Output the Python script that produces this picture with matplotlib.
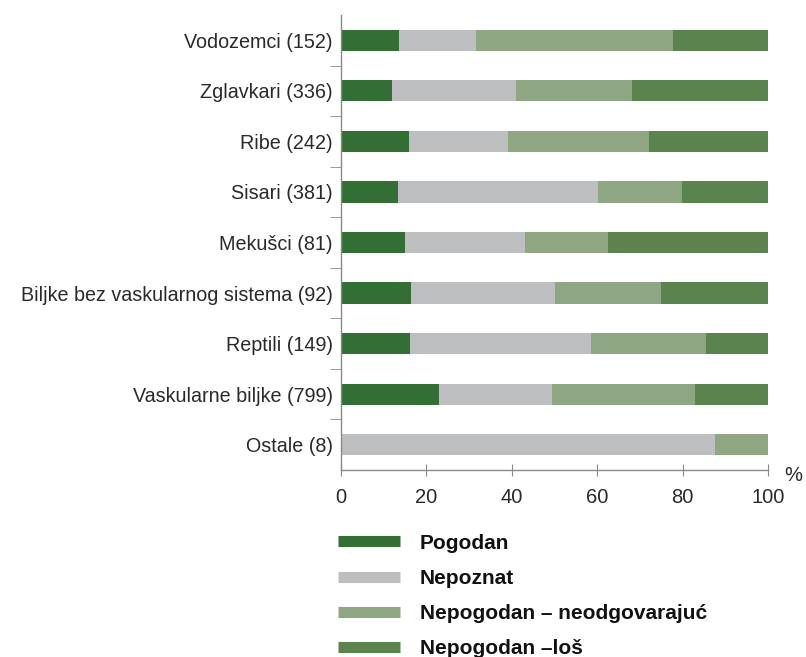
import matplotlib
matplotlib.use("Agg")
import matplotlib.pyplot as plt
from matplotlib.lines import Line2D
import numpy as np

plt.rcParams['font.family'] = ['Liberation Sans', 'DejaVu Sans']

categories = ["Vodozemci (152)", "Zglavkari (336)", "Ribe (242)", "Sisari (381)",
              "Mekušci (81)", "Biljke bez vaskularnog sistema (92)", "Reptili (149)",
              "Vaskularne biljke (799)", "Ostale (8)"]
pogodan = [13.6, 11.9, 15.9, 13.3, 15.0, 16.4, 16.1, 22.9, 0.0]
nepoznat = [17.9, 29.2, 23.1, 47.0, 28.2, 33.8, 42.5, 26.6, 87.5]
neodgovarajuc = [46.3, 27.1, 33.2, 19.6, 19.4, 24.8, 26.9, 33.4, 12.5]
los = [22.2, 31.8, 27.8, 20.1, 37.4, 25.0, 14.5, 17.1, 0.0]
series_labels = ["Pogodan", "Nepoznat", "Nepogodan – neodgovarajuć", "Nepogodan –loš"]
colors = ["#336e35", "#bdbec0", "#8ea682", "#5a834e"]
xticks = [0, 20, 40, 60, 80, 100]

fig = plt.figure(figsize=(8.06, 6.57), dpi=100)
ax = fig.add_axes([341/806, 1-470/657, (768-341)/806, (470-15)/657])

y = np.arange(len(categories))
left = np.zeros(len(categories))
for vals, col, lab in zip([pogodan, nepoznat, neodgovarajuc, los], colors, series_labels):
    ax.barh(y, vals, left=left, height=0.42, color=col, label=lab, linewidth=0)
    left = left + np.array(vals)

ax.set_ylim(len(categories) - 0.5, -0.5)
ax.set_xlim(0, 100)
ax.set_yticks(y)
ax.set_yticklabels(categories, fontsize=14.2, color="#2a2a2a")
ax.set_yticks(np.arange(0.5, len(categories) - 0.5, 1), minor=True)
ax.tick_params(axis='y', which='major', length=0, pad=6)
ax.tick_params(axis='y', which='minor', length=8, color="#8a8a8a", direction='out')
ax.set_xticks(xticks)
ax.set_xticklabels([str(t) for t in xticks], fontsize=14.5, color="#2a2a2a")
ax.tick_params(axis='x', which='major', length=8, direction='inout', color="#8a8a8a", pad=9)

for s in ['top', 'right']:
    ax.spines[s].set_visible(False)
for s in ['left', 'bottom']:
    ax.spines[s].set_color("#8a8a8a")
    ax.spines[s].set_linewidth(1.0)

ax.text(1.06, -0.012, "%", transform=ax.transAxes, fontsize=14.5, color="#2a2a2a",
        ha='center', va='center')

handles = [Line2D([0], [0], color=c, linewidth=8, solid_capstyle='butt') for c in colors]
leg = fig.legend(handles, series_labels, loc='upper left',
                 bbox_to_anchor=(319/806, 1-515/657), frameon=False,
                 prop={'weight': 'bold', 'size': 15}, handlelength=2.98,
                 handletextpad=0.96, labelspacing=0.78)
for t in leg.get_texts():
    t.set_color("#111111")

fig.savefig("out.png", dpi=100)
